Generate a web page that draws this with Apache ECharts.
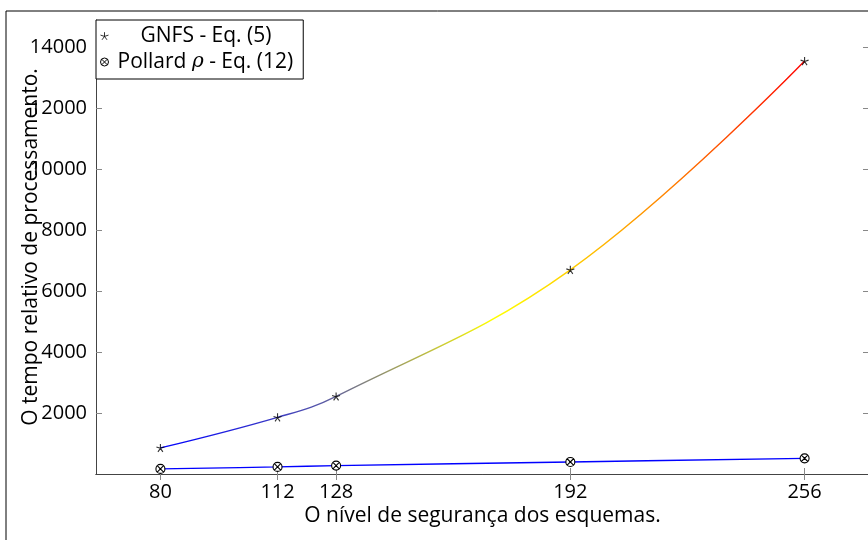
<!DOCTYPE html>
<html>
<head>
<meta charset="utf-8">
<script src="https://cdn.jsdelivr.net/npm/echarts@6/dist/echarts.min.js"></script>
<style>
  html, body { margin: 0; padding: 0; background: #fff; }
  #main { width: 868px; height: 540px; }
</style>
</head>
<body>
<div id="main"></div>
<script>
// níveis de segurança (eixo x)
const levels = [80, 112, 128, 192, 256]
// tempo relativo
const gnfs = [855, 1858, 2545, 6696, 13543]
const pollard = [167, 233, 275, 396, 514]
const yTicks = [2000, 4000, 6000, 8000, 10000, 12000, 14000]

const xMin = 62.4
const xMax = 273.6
const yMax = 14890

const font = 'Open Sans'
const starPath = 'path://M0,-10L0,0M9.51,-3.09L0,0M5.88,8.09L0,0M-5.88,8.09L0,0M-9.51,-3.09L0,0'
const otimesPath = 'path://M10,0A10,10,0,1,1,-10,0A10,10,0,1,1,10,0ZM7.07,7.07L-7.07,-7.07M7.07,-7.07L-7.07,7.07'

function pairs (xs, ys) {
  return xs.map((x, i) => [x, ys[i]])
}

let myChart = echarts.init(document.getElementById('main'))

let tickStyle = { inside: true, length: 6, lineStyle: { color: '#888' } }
let lineStyle = { lineStyle: { color: '#444', width: 1 } }

let option = {
  animation: false,
  textStyle: { fontFamily: font },
  graphic: [{
    type: 'rect',
    shape: { x: 6, y: 11, width: 900, height: 600 },
    style: { fill: 'none', stroke: '#000', lineWidth: 1 },
    z: -1
  }],
  grid: { left: 96, top: 20, width: 773, height: 454, containLabel: false, outerBoundsMode: 'none' },
  legend: {
    left: 96,
    top: 20,
    orient: 'vertical',
    backgroundColor: '#fff',
    borderColor: '#000',
    borderWidth: 1,
    borderRadius: 0,
    padding: [5, 10, 6, 4],
    itemGap: 4,
    itemWidth: 8,
    itemHeight: 8,
    z: 10,
    textStyle: {
      fontFamily: font,
      fontSize: 21,
      color: '#000',
      lineHeight: 22,
      rich: {
        g: { fontFamily: font, fontSize: 21, lineHeight: 22, padding: [0, 0, 0, 27] },
        p: { fontFamily: font, fontSize: 21, lineHeight: 22, padding: [0, 0, 0, 4] },
        q: { fontFamily: font, fontSize: 21, lineHeight: 22 },
        r: { fontFamily: 'DejaVu Serif', fontStyle: 'italic', fontSize: 20, lineHeight: 22 }
      }
    },
    formatter: function (name) {
      if (name.indexOf('GNFS') === 0) {
        return '{g|' + name + '}'
      }
      let parts = name.split('ρ')
      return '{p|' + parts[0] + '}{r|ρ}{q|' + parts[1] + '}'
    },
    data: [
      { name: 'GNFS - Eq. (5)', icon: starPath, itemStyle: { color: '#000', borderColor: '#000', borderWidth: 1 } },
      { name: 'Pollard ρ - Eq. (12)', icon: otimesPath, itemStyle: { color: '#fff', borderColor: '#000', borderWidth: 1 } }
    ]
  },
  visualMap: {
    show: false,
    type: 'continuous',
    seriesIndex: 0,
    dimension: 1,
    min: Math.min(...gnfs),
    max: Math.max(...gnfs),
    inRange: { color: ['#0000ff', '#ffff00', '#ff8000', '#ff0000'] }
  },
  xAxis: [{
    type: 'value',
    min: xMin,
    max: xMax,
    name: 'O nível de segurança dos esquemas.',
    nameLocation: 'middle',
    nameGap: 32,
    nameMoveOverlap: false,
    nameTextStyle: { fontFamily: font, fontSize: 21, color: '#000' },
    splitLine: { show: false },
    axisLine: lineStyle,
    axisTick: Object.assign({ customValues: levels }, tickStyle),
    axisLabel: { customValues: levels, fontFamily: font, fontSize: 20, color: '#000', margin: 8 }
  }, {
    type: 'value',
    position: 'top',
    min: xMin,
    max: xMax,
    splitLine: { show: false },
    axisLine: lineStyle,
    axisTick: Object.assign({ customValues: levels }, tickStyle),
    axisLabel: { show: false }
  }],
  yAxis: [{
    type: 'value',
    min: 0,
    max: yMax,
    name: 'O tempo relativo de processamento.',
    nameLocation: 'middle',
    nameGap: 54,
    nameMoveOverlap: false,
    nameTextStyle: { fontFamily: font, fontSize: 21, color: '#000' },
    splitLine: { show: false },
    axisLine: Object.assign({ show: true }, lineStyle),
    axisTick: Object.assign({ customValues: yTicks }, tickStyle),
    axisLabel: {
      customValues: yTicks,
      fontFamily: font,
      fontSize: 20,
      color: '#000',
      margin: 9,
      formatter: v => String(v)
    }
  }, {
    type: 'value',
    position: 'right',
    min: 0,
    max: yMax,
    splitLine: { show: false },
    axisLine: Object.assign({ show: true }, lineStyle),
    axisTick: Object.assign({ customValues: yTicks }, tickStyle),
    axisLabel: { show: false }
  }],
  series: [
    {
      name: 'GNFS curve',
      type: 'line',
      smooth: 0.4,
      showSymbol: false,
      lineStyle: { width: 1.4 },
      data: pairs(levels, gnfs),
      z: 2
    },
    {
      name: 'GNFS - Eq. (5)',
      type: 'scatter',
      symbol: starPath,
      symbolSize: 8,
      itemStyle: { color: '#000', borderColor: '#000', borderWidth: 1.1 },
      data: pairs(levels, gnfs),
      z: 4
    },
    {
      name: 'Pollard ρ - Eq. (12)',
      type: 'line',
      smooth: 0.4,
      symbol: otimesPath,
      symbolSize: 9,
      showSymbol: true,
      lineStyle: { color: '#0000ff', width: 1.4 },
      itemStyle: { color: '#fff', borderColor: '#000', borderWidth: 1.1 },
      data: pairs(levels, pollard),
      z: 3
    }
  ]
}

myChart.setOption(option)
</script>
</body>
</html>
